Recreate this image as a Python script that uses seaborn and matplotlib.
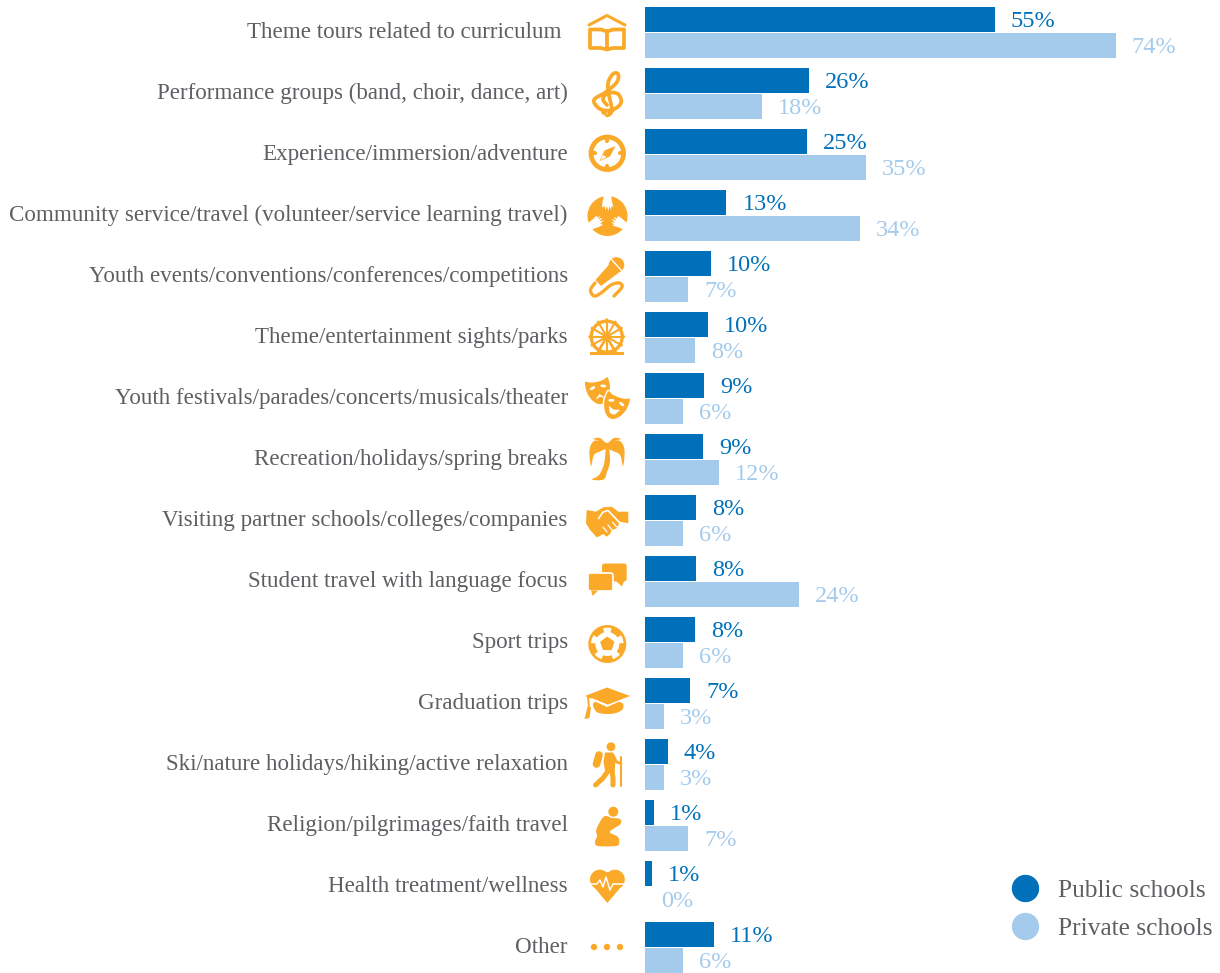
import numpy as np
import pandas as pd
import matplotlib
matplotlib.use("Agg")
import matplotlib.pyplot as plt
import seaborn as sns
from matplotlib.lines import Line2D
from matplotlib.patches import Circle, Ellipse, Polygon, FancyBboxPatch, Wedge
from matplotlib.transforms import ScaledTranslation

categories = [
    "Theme tours related to curriculum",
    "Performance groups (band, choir, dance, art)",
    "Experience/immersion/adventure",
    "Community service/travel (volunteer/service learning travel)",
    "Youth events/conventions/conferences/competitions",
    "Theme/entertainment sights/parks",
    "Youth festivals/parades/concerts/musicals/theater",
    "Recreation/holidays/spring breaks",
    "Visiting partner schools/colleges/companies",
    "Student travel with language focus",
    "Sport trips",
    "Graduation trips",
    "Ski/nature holidays/hiking/active relaxation",
    "Religion/pilgrimages/faith travel",
    "Health treatment/wellness",
    "Other",
]
public_values = [55.0, 25.8, 25.5, 12.8, 10.4, 9.9, 9.3, 9.1, 8.0, 8.0, 7.9, 7.1, 3.6, 1.4, 1.1, 10.8]
private_values = [74.0, 18.4, 34.7, 33.8, 6.8, 7.9, 6.0, 11.6, 6.0, 24.2, 6.0, 3.0, 3.0, 6.8, 0.0, 6.0]
public_labels = ["55%", "26%", "25%", "13%", "10%", "10%", "9%", "9%", "8%", "8%", "8%", "7%", "4%", "1%", "1%", "11%"]
private_labels = ["74%", "18%", "35%", "34%", "7%", "8%", "6%", "12%", "6%", "24%", "6%", "3%", "3%", "7%", "0%", "6%"]
series_names = ["Public schools", "Private schools"]

DARK = "#0070BA"
LIGHT = "#A5CBEC"
ORANGE = "#FBA928"
GREY = "#5E5F63"
W, H = 1220, 973

plt.rcParams["font.family"] = ["Liberation Serif", "DejaVu Serif"]

df = pd.DataFrame({
    "category": categories * 2,
    "share": public_values + private_values,
    "school": [series_names[0]] * 16 + [series_names[1]] * 16,
})

fig = plt.figure(figsize=(W / 100, H / 100), dpi=100)
ax = fig.add_axes([645 / W, 0, (W - 645) / W, 1])
sns.barplot(data=df, x="share", y="category", hue="school", palette=[DARK, LIGHT],
            orient="h", width=0.84, gap=0.04, legend=False, saturation=1, ax=ax)
ax.set_xlim(0, (W - 645) / 6.36)
ax.set_ylim((H - 32.5) / 61, -32.5 / 61)
ax.set_xlabel("")
ax.set_ylabel("")
ax.set_xticks([])
ax.tick_params(axis="y", length=0, pad=55.6, labelsize=16.6, labelcolor=GREY)
sns.despine(ax=ax, left=True, bottom=True)
ax.patch.set_alpha(0)

# nudge the category labels up a bit, first one sits further left in the original
for i, lab in enumerate(ax.get_yticklabels()):
    dx = -6 / 100 if i == 0 else 0
    lab.set_transform(lab.get_transform() + ScaledTranslation(dx, 2.5 / 100, fig.dpi_scale_trans))

for cont, labs, col in zip(ax.containers, [public_labels, private_labels], [DARK, LIGHT]):
    for t in ax.bar_label(cont, labels=labs, padding=11.5, fontsize=17.5, color=col):
        t.xyann = (t.xyann[0], -1.5)

handles = [Line2D([], [], marker="o", linestyle="", markersize=18.7, color=c) for c in (DARK, LIGHT)]
ax.legend(handles, series_names, loc="lower right", bbox_to_anchor=(1.0, 0.026), frameon=False,
          fontsize=18.3, labelcolor=GREY, labelspacing=0.6, handletextpad=0.28, borderpad=0, borderaxespad=0.3)

# icon column, drawn in pixel coordinates of the figure
ic = fig.add_axes([0, 0, 1, 1])
ic.set_xlim(0, W)
ic.set_ylim(H, 0)
ic.axis("off")


def smooth(pts, closed=False):
    # catmull-rom through the points
    pts = np.array(pts, dtype=float)
    n = len(pts)
    out = []
    segs = n if closed else n - 1
    for i in range(segs):
        if closed:
            p0, p1, p2, p3 = pts[(i - 1) % n], pts[i], pts[(i + 1) % n], pts[(i + 2) % n]
        else:
            p0, p1, p2, p3 = pts[max(i - 1, 0)], pts[i], pts[i + 1], pts[min(i + 2, n - 1)]
        for u in np.linspace(0, 1, 12, endpoint=False):
            out.append(0.5 * (2 * p1 + (p2 - p0) * u + (2 * p0 - 5 * p1 + 4 * p2 - p3) * u ** 2 + (3 * p1 - p0 - 3 * p2 + p3) * u ** 3))
    if not closed:
        out.append(pts[-1])
    return np.array(out)


def fill(pts, color=ORANGE):
    ic.add_patch(Polygon(pts, closed=True, fc=color, ec="none"))


def blob(pts, color=ORANGE):
    fill(smooth(pts, closed=True), color)


def stroke(pts, lw=2.2, color=ORANGE):
    c = smooth(pts)
    ic.plot(c[:, 0], c[:, 1], color=color, lw=lw, solid_capstyle="round")


def line(pts, lw=2.2, color=ORANGE):
    ic.plot([p[0] for p in pts], [p[1] for p in pts], color=color, lw=lw, solid_capstyle="round", solid_joinstyle="round")


def disc(x, y, r, color=ORANGE):
    ic.add_patch(Circle((x, y), r, fc=color, ec="none"))


def ring(x, y, r, lw):
    ic.add_patch(Circle((x, y), r, fc="none", ec=ORANGE, lw=lw))


# book
line([(589, 25), (607, 15.5), (625, 25)], lw=2.2)
line([(607, 31.5), (601, 29.5), (590, 29.5), (590, 48), (601, 48), (607, 49.5), (613, 48), (624, 48), (624, 29.5), (613, 29.5), (607, 31.5), (607, 49)], lw=2.7)

# treble clef
stroke([(609, 114), (612, 110), (609, 95), (608, 83), (613, 74), (618, 74), (617, 82), (606, 92), (594, 100), (600, 109), (612, 110), (621, 103), (618, 94), (608, 93), (603, 99), (607, 105)], lw=2.7)
disc(604, 112, 2.8)
stroke([(604, 112), (607, 116), (611, 114)], lw=1.8)

# compass
ring(607.3, 153.3, 16.3, 3.4)
for ang in (0, 90, 180, 270):
    a = np.radians(ang)
    line([(607.3 + 12.5 * np.cos(a), 153.3 + 12.5 * np.sin(a)), (607.3 + 15 * np.cos(a), 153.3 + 15 * np.sin(a))], lw=3)
fill([(615.5, 146), (610, 156.5), (599.5, 161), (604.5, 150.5)])
fill([(603, 155), (606.5, 157), (600.5, 160)], "white")

# hands in a circle
disc(607.5, 216, 20)
for rot in (0, 120, 240):
    a = np.radians(rot)
    ca, sa = np.cos(a), np.sin(a)
    shape = [(-3.5, -21), (3.5, -21), (4.5, -14), (6, -9), (4, -10), (3.4, -6), (2, -10), (0.8, -5), (-0.6, -10), (-2, -5.5), (-3, -10), (-5.5, -8.5), (-5, -14)]
    fill([(607.5 + px * ca - py * sa, 216 + px * sa + py * ca) for px, py in shape], "white")

# microphone
disc(616.5, 265, 7.8)
ic.plot([611.5, 621.5], [259.5, 270.5], color="white", lw=1.0)
fill([(610.5, 263), (619, 272.5), (601, 286), (595.5, 280)])
stroke([(595, 283), (590.5, 290), (594, 296), (601, 293), (611, 285), (619, 283), (622, 287), (614, 296)], lw=2.4)

# ferris wheel
ring(606.7, 336.7, 15.5, 2.4)
for ang in range(0, 180, 30):
    a = np.radians(ang)
    line([(606.7 - 14 * np.cos(a), 336.7 - 14 * np.sin(a)), (606.7 + 14 * np.cos(a), 336.7 + 14 * np.sin(a))], lw=1.5)
for ang in range(0, 360, 30):
    a = np.radians(ang)
    disc(606.7 + 17 * np.cos(a), 336.7 + 17 * np.sin(a), 1.4)
disc(606.7, 336.7, 3)
fill([(590, 352), (624, 352), (624, 355), (590, 355)])
line([(606.7, 337), (598, 352)], lw=1.8)
line([(606.7, 337), (615.5, 352)], lw=1.8)


def mask(cx, cy, deg, smile):
    a = np.radians(deg)
    ca, sa = np.cos(a), np.sin(a)

    def tr(p):
        return (cx + p[0] * ca - p[1] * sa, cy + p[0] * sa + p[1] * ca)

    outline = [(-12, -11), (-6, -9.5), (0, -9), (6, -9.5), (12, -11), (12.5, 0), (9, 9), (4, 14), (0, 15), (-4, 14), (-9, 9), (-12.5, 0)]
    c = smooth([tr(p) for p in outline], closed=True)
    ic.add_patch(Polygon(c, closed=True, fc=ORANGE, ec="white", lw=1.0))
    for ex in (-5.5, 5.5):
        ic.add_patch(Ellipse(tr((ex, -3)), 6, 2.8, angle=deg + (18 if ex > 0 else -18), fc="white", ec="none"))
    if smile:
        fill([tr(p) for p in [(-6, 3), (0, 5), (6, 3), (3, 9), (0, 10), (-3, 9)]], "white")
    else:
        fill([tr(p) for p in [(-5, 9), (0, 4), (5, 9), (0, 7)]], "white")


# masks
mask(598.5, 390, -12, False)
mask(615.5, 405, 20, True)

# palm tree
blob([(592, 479.5), (599, 475), (604, 464), (606, 449), (609, 449), (610, 462), (607, 472), (603.5, 479.5)])
blob([(607, 448), (602, 442), (594, 441), (589.5, 450), (591, 466), (594, 455), (601, 451)])
blob([(607, 448), (612, 442), (620, 441), (624.5, 450), (623, 466), (620, 455), (613, 451)])
blob([(607, 449), (599, 441), (593, 439), (600, 438), (607, 443), (614, 438), (621, 439), (615, 441)])

# handshake
fill([(586.7, 510), (596, 511.7), (603.3, 507.3), (611.7, 506.7), (618.3, 511.7), (628.3, 511.7), (628.3, 523.3), (620, 521.7),
      (616.7, 528.3), (612, 530), (610, 534), (606.7, 536.7), (603, 534), (600, 536), (596.7, 537.3), (592, 532), (590, 530), (586, 523.3)])
line([(598.5, 518.5), (603, 512), (608, 510.5), (620, 523)], lw=1.2, color="white")
line([(603, 527), (607, 532)], lw=0.9, color="white")
line([(608, 525), (612, 530)], lw=0.9, color="white")
line([(612.5, 522), (616.5, 527)], lw=0.9, color="white")

# speech bubbles
ic.add_patch(FancyBboxPatch((602, 563.5), 24.7, 18, boxstyle="round,pad=0,rounding_size=2.5", fc=ORANGE, ec="none"))
fill([(616, 581), (624, 581), (622, 586.5)])
ic.add_patch(FancyBboxPatch((588, 573), 25, 18, boxstyle="round,pad=0,rounding_size=2.5", fc=ORANGE, ec="white", lw=1.2))
fill([(591, 590.5), (598, 590.5), (592.7, 596)])

# soccer ball
disc(607.3, 644, 19)
disc(607.3, 644, 16.3, "white")
fill([(607.3 + 7.5 * np.cos(np.radians(-90 + k * 72)), 644 + 7.5 * np.sin(np.radians(-90 + k * 72))) for k in range(5)])
for ang in (-54, 18, 90, 162, 234):
    ic.add_patch(Wedge((607.3, 644), 17, ang - 21, ang + 21, width=5, fc=ORANGE, ec="none"))

# graduation cap
blob([(595, 702), (620, 702), (622.7, 709), (614, 713.5), (601, 713.5), (595, 710)])
fill([(583, 696), (607, 686), (632, 696), (607, 707)], "white")
fill([(585, 696), (607, 687.5), (630, 696), (607, 705)])
line([(592, 699), (607, 705)], lw=1.0, color="white")
line([(588, 697), (589, 708)], lw=1.4)
fill([(587.5, 707), (591, 707), (589.5, 718), (584.5, 719)])

# hiker
disc(611, 746.7, 4.4)
fill([(605, 752.5), (613, 752.5), (615.5, 760), (614.5, 773), (605.5, 773), (603.5, 762)])
line([(608, 771), (603, 778), (595.5, 785)], lw=3.6)
line([(612, 771), (613, 778), (613, 785)], lw=3.6)
line([(613, 755), (616.5, 762), (621, 763.5)], lw=2)
line([(599, 755), (596.5, 764)], lw=5.5)
line([(620.7, 757), (620.7, 786)], lw=1.5)

# praying figure
disc(613.3, 811.7, 5)
blob([(604, 816.5), (612, 818), (620, 819), (620.5, 824), (613, 829), (610, 832.5), (618, 837), (619, 843), (616, 846), (598, 846), (595, 842), (597, 836), (596.5, 829)])

# heart with pulse line
disc(599.8, 879.5, 9.8)
disc(615, 879.5, 9.8)
fill([(590.5, 883), (607.4, 903), (624.3, 883), (607.4, 872)])
line([(589, 884), (597, 884), (600, 880), (603, 887), (606, 877), (610, 890), (613, 884), (626, 884)], lw=1.1, color="white")

# dots for Other
for x in (594, 607, 620):
    disc(x, 947, 3.2)

fig.savefig("out.png", dpi=100)
